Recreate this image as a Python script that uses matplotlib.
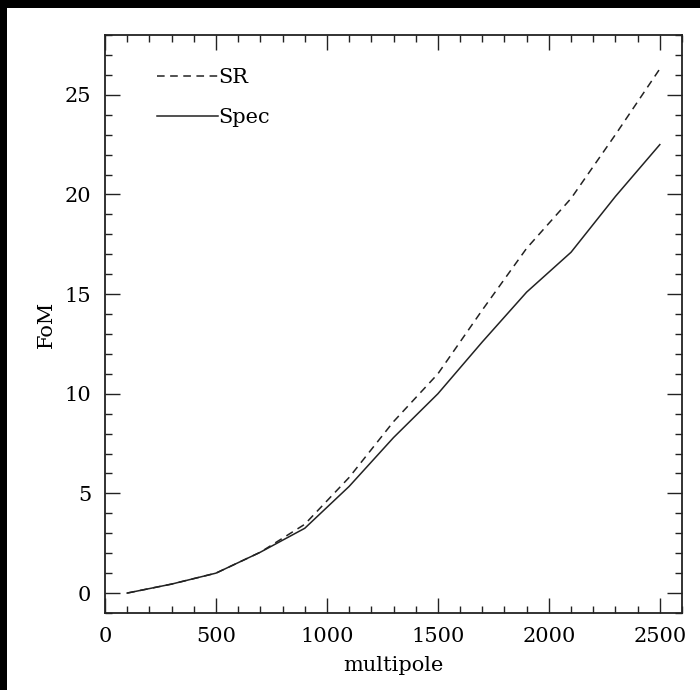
import matplotlib
matplotlib.use('Agg')
import matplotlib.pyplot as plt
from matplotlib.patches import Rectangle
from matplotlib.ticker import MultipleLocator

# multipole values and figure of merit for the two cases
multipole = [100, 300, 500, 700, 900, 1100, 1300, 1500, 1700, 1900, 2100, 2300, 2500]
fom_sr = [0.0, 0.45, 1.0, 2.05, 3.45, 5.8, 8.6, 11.0, 14.2, 17.3, 19.8, 23.0, 26.3]
fom_spec = [0.0, 0.45, 1.0, 2.05, 3.25, 5.35, 7.8, 10.0, 12.6, 15.1, 17.1, 19.9, 22.5]

plt.rcParams['font.family'] = 'DejaVu Serif'
plt.rcParams['font.size'] = 15

fig = plt.figure(figsize=(7, 6.9), dpi=100, facecolor='black')
# white page with black strip on top and left, like the scan
fig.patches.append(Rectangle((7 / 700, 0), 1, 682 / 690, transform=fig.transFigure,
                             facecolor='white', edgecolor='none', zorder=-10))
ax = fig.add_axes([0.15, 0.1116, 0.8243, 0.8377])
ax.set_zorder(5)

ax.plot(multipole, fom_sr, ls=(0, (5, 3.6)), color='#222222', lw=1.1, label='SR')
ax.plot(multipole, fom_spec, ls='-', color='#222222', lw=1.1, label='Spec')

ax.set_xlim(0, 2600)
ax.set_ylim(-1, 28)
ax.xaxis.set_major_locator(MultipleLocator(500))
ax.xaxis.set_minor_locator(MultipleLocator(100))
ax.yaxis.set_major_locator(MultipleLocator(5))
ax.yaxis.set_minor_locator(MultipleLocator(1))
ax.tick_params(which='both', direction='in', top=True, right=True, width=1.0, color='#222222')
ax.tick_params(which='major', length=11, pad=10)
ax.tick_params(which='minor', length=5)
for s in ax.spines.values():
    s.set_linewidth(1.3)
    s.set_color('#222222')

ax.set_xlabel('multipole', labelpad=7)
ax.set_ylabel('FoM', labelpad=6)

ax.legend(loc='upper left', bbox_to_anchor=(0.058, 0.975), frameon=False,
          handlelength=2.9, handletextpad=0.05, labelspacing=1.0)

fig.savefig('out.png', dpi=100, facecolor=fig.get_facecolor())
